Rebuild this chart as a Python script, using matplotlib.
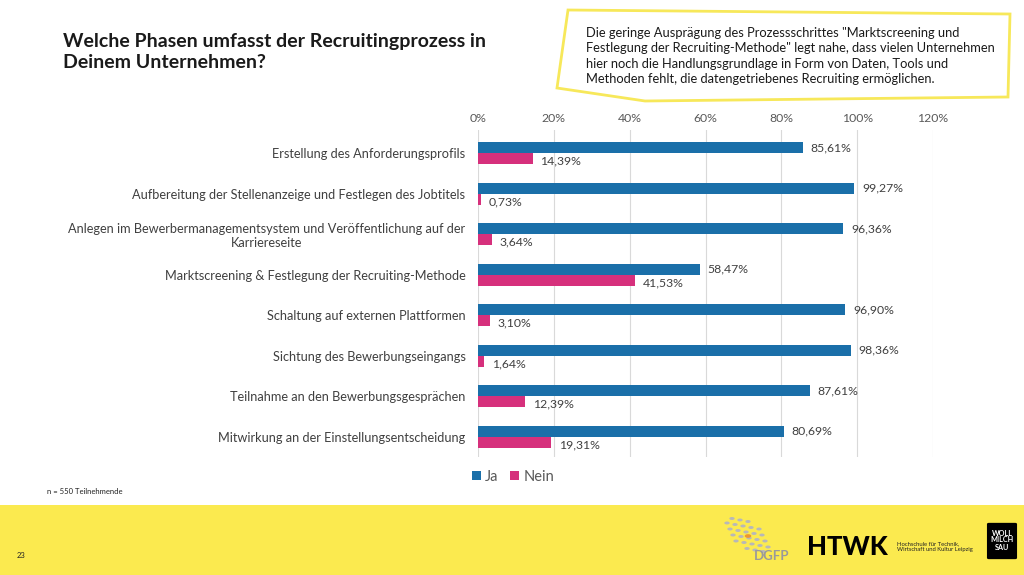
import matplotlib
matplotlib.use("Agg")
from matplotlib import pyplot as plt
from matplotlib.patches import Polygon, FancyBboxPatch, Rectangle, Circle

categories = [
    "Erstellung des Anforderungsprofils",
    "Aufbereitung der Stellenanzeige und Festlegen des Jobtitels",
    "Anlegen im Bewerbermanagementsystem und Veröffentlichung auf der\nKarriereseite",
    "Marktscreening & Festlegung der Recruiting-Methode",
    "Schaltung auf externen Plattformen",
    "Sichtung des Bewerbungseingangs",
    "Teilnahme an den Bewerbungsgesprächen",
    "Mitwirkung an der Einstellungsentscheidung",
]
ja = [85.61, 99.27, 96.36, 58.47, 96.90, 98.36, 87.61, 80.69]
nein = [14.39, 0.73, 3.64, 41.53, 3.10, 1.64, 12.39, 19.31]
xticks = [0, 20, 40, 60, 80, 100, 120]

title = "Welche Phasen umfasst der Recruitingprozess in\nDeinem Unternehmen?"
note = ('Die geringe Ausprägung des Prozessschrittes "Marktscreening und\n'
        'Festlegung der Recruiting-Methode" legt nahe, dass vielen Unternehmen\n'
        'hier noch die Handlungsgrundlage in Form von Daten, Tools und\n'
        'Methoden fehlt, die datengetriebenes Recruiting ermöglichen.')

BLUE = "#1a6fa9"
PINK = "#d6307c"
GREY = "#404040"
YELLOW = "#fbea4f"

plt.rcParams['font.family'] = ['Lato', 'DejaVu Sans']

W, H = 1024, 575
fig = plt.figure(figsize=(W / 100, H / 100), dpi=100)


def fx(px):
    return px / W


def fy(py):
    return 1 - py / H


ax = fig.add_axes([fx(478), fy(457), fx(933) - fx(478), fy(130) - fy(457)])
h = 0.27
ypos = list(range(len(categories)))
ax.barh([y - h / 2 for y in ypos], ja, height=h, color=BLUE, label="Ja", zorder=3)
ax.barh([y + h / 2 for y in ypos], nein, height=h, color=PINK, label="Nein", zorder=3)

for y, v in zip(ypos, ja):
    ax.text(v + 2.0, y - h / 2, f"{v:.2f}%".replace(".", ","), va="center",
            ha="left", fontsize=8.8, color=GREY)
for y, v in zip(ypos, nein):
    ax.text(v + 2.0, y + h / 2 + 0.06, f"{v:.2f}%".replace(".", ","), va="center",
            ha="left", fontsize=8.8, color=GREY)

ax.set_xlim(0, 120)
ax.set_ylim(7.5, -0.57)
ax.set_xticks(xticks)
ax.set_xticklabels([f"{t}%" for t in xticks])
ax.xaxis.tick_top()
ax.set_yticks(ypos)
ax.set_yticklabels(categories, fontsize=9.2, color=GREY)
ax.tick_params(axis="x", length=0, labelsize=8.8, labelcolor="#595959", pad=4)
ax.tick_params(axis="y", length=0, pad=9)
for lab in ax.get_yticklabels():
    lab.set_multialignment("center")
ax.grid(axis="x", color="#d9d9d9", linewidth=0.8, zorder=0)
for s in ax.spines.values():
    s.set_visible(False)

leg = fig.legend(loc="center", bbox_to_anchor=(fx(513), fy(477)), ncol=2, frameon=False,
                 fontsize=10.5, handlelength=0.6, handleheight=0.6, handletextpad=0.3,
                 columnspacing=0.8)
for t in leg.get_texts():
    t.set_color("#595959")

# title and notes
fig.text(fx(63), fy(33), title, fontsize=14, fontweight="bold", color="#1a1a1a",
         va="top", ha="left", linespacing=1.3)
fig.text(fx(47), fy(492), "n = 550 Teilnehmende", fontsize=5.5, color="#222222",
         va="center", ha="left")

# callout
pts = [(568, 10), (1010, 14), (1008, 97), (645, 101), (557, 88)]
fig.patches.append(Polygon([(fx(a), fy(b)) for a, b in pts], closed=True,
                           transform=fig.transFigure, facecolor="white",
                           edgecolor="#f7e85a", linewidth=2))
fig.text(fx(586), fy(27), note, fontsize=9.3, color="#1a1a1a", va="top", ha="left",
         linespacing=1.33)

# footer band
fig.patches.append(Rectangle((0, 0), 1, fy(505), transform=fig.transFigure,
                             facecolor=YELLOW, edgecolor="none", zorder=0))
fig.text(fx(17), fy(555), "23", fontsize=5.5, color="#222222", va="center")

# DGFP logo (dots + text)
for i in range(6):
    for j in range(5):
        if abs(i - 2.5) + abs(j - 2) > 3.5:
            continue
        fig.patches.append(Circle((fx(724 + j * 8 + i * 3), fy(517 + i * 6 + j * 1.5)),
                                  0.0026, transform=fig.transFigure,
                                  facecolor="#b8b8b8", edgecolor="none"))
fig.patches.append(Circle((fx(748), fy(536)), 0.0032, transform=fig.transFigure,
                          facecolor="#f0962e", edgecolor="none"))
fig.text(fx(754), fy(556), "DGFP", fontsize=9.5, color="#9a9a9a", va="center",
         ha="left", fontweight="bold")
fig.text(fx(807), fy(547), "HTWK", fontsize=18.5, color="black", va="center",
         ha="left", fontweight="black")
fig.text(fx(897), fy(547), "Hochschule für Technik,\nWirtschaft und Kultur Leipzig",
         fontsize=4.2, color="#222222", va="center", ha="left")
fig.patches.append(FancyBboxPatch((fx(989), fy(558)), fx(26), fy(524) - fy(558),
                                  boxstyle="round,pad=0.002", transform=fig.transFigure,
                                  facecolor="black", edgecolor="none"))
fig.text(fx(1002), fy(540), "WOLL\nMILCH\nSAU", fontsize=5.2, color="white",
         va="center", ha="center", fontweight="bold", linespacing=1.0)

fig.savefig("out.png", dpi=100, facecolor="white")
